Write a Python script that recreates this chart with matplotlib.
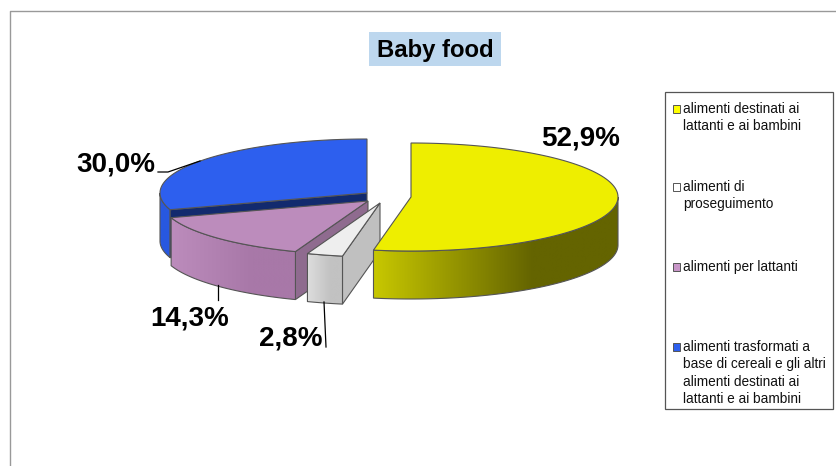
import numpy as np
import matplotlib
matplotlib.use("Agg")
import matplotlib.pyplot as plt
from matplotlib.patches import Polygon, Rectangle

plt.rcParams['font.family'] = ['Liberation Sans', 'DejaVu Sans']

title = "Baby food"
categories = ["alimenti destinati ai\nlattanti e ai bambini",
              "alimenti di\nproseguimento",
              "alimenti per lattanti",
              "alimenti trasformati a\nbase di cereali e gli altri\nalimenti destinati ai\nlattanti e ai bambini"]
values = [52.9, 2.8, 14.3, 30.0]
value_labels = ["52,9%", "2,8%", "14,3%", "30,0%"]

# look of the slices, same order as values
top_colors = ["#eeee00", "#eeeeee", "#bc8cbc", "#2d5fee"]
side_left = ["#c8c800", "#dedede", "#bc8cbc", "#2858e0"]
side_right = ["#646400", "#c2c2c2", "#a878a8", "#2858e0"]
cut_colors = ["#646400", "#c0c0c0", "#8f6b8f", "#122a6e"]
legend_colors = ["#ffff00", "#ffffff", "#c896c8", "#2d5fee"]

# slice layout in pixels
centers = [(411, 197), (380, 203), (368, 201), (367, 193)]
rx, ry, depth = 207, 54, 48

# label text position and leader line
label_pos = [(581, 139), (291, 339), (190, 318), (116, 165)]
leaders = [None,
           [(324, 302), (326, 347)],
           [(218, 285), (218, 300)],
           [(158, 172), (168, 172), (200, 161)]]
legend_y = [109, 187, 267, 347]


def ellipse_pts(c, a0, a1, n=120):
    # angles in degrees, clockwise from the top of the pie
    t = np.radians(np.linspace(a0, a1, n))
    return np.column_stack([c[0] + rx * np.sin(t), c[1] - ry * np.cos(t)])


def draw_side(ax, c, a0, a1, left, right):
    a0, a1 = max(a0, 90), min(a1, 270)
    if a1 <= a0:
        return
    arc = ellipse_pts(c, a0, a1)
    pts = np.vstack([arc, (arc + [0, depth])[::-1]])
    poly = Polygon(pts, closed=True, fc="none", ec="#555555", lw=0.8, zorder=ax.zcount + 1)
    ax.add_patch(poly)
    x0, x1 = pts[:, 0].min(), pts[:, 0].max()
    y0, y1 = pts[:, 1].min(), pts[:, 1].max()
    # gradient runs left to right, flat past the shadow stop
    l = np.array(matplotlib.colors.to_rgb(left))
    r = np.array(matplotlib.colors.to_rgb(right))
    f = np.clip(np.linspace(0, 1, 200) / 0.65, 0, 1)
    grad = l[None, :] * (1 - f[:, None]) + r[None, :] * f[:, None]
    im = ax.imshow(grad[None, :, :], extent=(x0, x1, y1, y0), aspect="auto", zorder=ax.zcount)
    im.set_clip_path(poly)
    ax.zcount += 2


def draw_cut(ax, c, angle, color):
    p = ellipse_pts(c, angle, angle, 1)[0]
    pts = [c, p, (p[0], p[1] + depth), (c[0], c[1] + depth)]
    ax.add_patch(Polygon(pts, closed=True, fc=color, ec="#555555", lw=0.8, zorder=ax.zcount))
    ax.zcount += 1


fig = plt.figure(figsize=(8.36, 4.66), dpi=100)
ax = fig.add_axes([0, 0, 1, 1])
ax.set_xlim(0, 836)
ax.set_ylim(466, 0)
ax.axis("off")
ax.zcount = 2

# outer frame only shows on top and left
ax.plot([9.5, 9.5, 836], [466, 10.5, 10.5], color="#999999", lw=1)

ax.add_patch(Rectangle((369, 32), 132, 34, fc="#bdd7ee", ec="none"))
ax.text(435, 50, title, fontsize=17.2, fontweight="bold", ha="center", va="center")

edges = np.concatenate([[0], np.cumsum(values)]) / sum(values) * 360

# back to front: blue, purple, grey, yellow
for i in [3, 2, 1, 0]:
    a0, a1 = edges[i], edges[i + 1]
    c = centers[i]
    if i == 3:
        draw_side(ax, c, a0, a1, side_left[i], side_right[i])
        draw_cut(ax, c, a0, cut_colors[i])
    elif i in (1, 2):
        draw_cut(ax, c, a0, cut_colors[i])
        draw_side(ax, c, a0, a1, side_left[i], side_right[i])
    else:
        draw_side(ax, c, a0, a1, side_left[i], side_right[i])
    top = np.vstack([[c], ellipse_pts(c, a0, a1)])
    ax.add_patch(Polygon(top, closed=True, fc=top_colors[i], ec="#555555", lw=0.8, zorder=ax.zcount))
    ax.zcount += 1

for i in range(4):
    ax.text(label_pos[i][0], label_pos[i][1], value_labels[i], fontsize=20, fontweight="bold",
            ha="center", va="center", zorder=50)
    if leaders[i] is not None:
        xs, ys = zip(*leaders[i])
        ax.plot(xs, ys, color="black", lw=0.9, zorder=49)

# legend, drawn by hand because of the uneven spacing
ax.add_patch(Rectangle((664.5, 91.5), 168, 317, fc="white", ec="#555555", lw=0.9, zorder=50))
for i in range(4):
    y = legend_y[i]
    ax.add_patch(Rectangle((672.5, y - 4), 7.5, 7.5, fc=legend_colors[i], ec="#555555", lw=0.7, zorder=51))
    ax.text(683, y - 7, categories[i], fontsize=9.8, ha="left", va="top", linespacing=1.3,
            color="#111111", zorder=51)

fig.savefig("out.png", dpi=100)
